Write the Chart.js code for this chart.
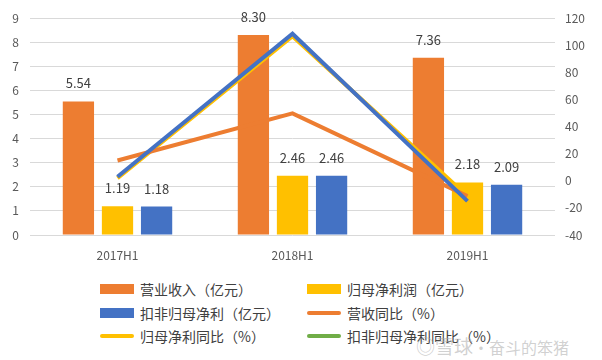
<!DOCTYPE html>
<html>
<head>
<meta charset="utf-8">
<script src="https://cdn.jsdelivr.net/npm/chart.js@4/dist/chart.umd.min.js"></script>
<style>
  body { margin: 0; background: #fff; font-family: "Noto Sans CJK SC", sans-serif; }
  #wrap { position: relative; width: 602px; height: 360px; overflow: hidden; }
  #box { position: absolute; left: 0; top: 0; width: 602px; height: 275px; }
  #legend { position: absolute; left: 100px; top: 278px; display: grid;
            grid-template-columns: 207px 220px; row-gap: 1px; }
  .item { display: flex; align-items: center; height: 22.5px; font-size: 14px; color: #404040; white-space: nowrap; }
  .sw { width: 34px; margin-right: 6px; }
  .mark { position: absolute; left: 416px; top: 332px; color: rgba(170,170,170,0.55); white-space: nowrap; }
  .mark b { font-size: 19px; font-weight: normal; }
  .mark span { font-size: 16px; }
</style>
</head>
<body>
<div id="wrap">
  <div id="box"><canvas id="c"></canvas></div>
  <div id="legend"></div>
  <div class="mark"><b>◎雪球</b><span>·奋斗的笨猪</span></div>
</div>
<script>
const periods = ['2017H1', '2018H1', '2019H1'];
const revenue = [5.54, 8.30, 7.36];
const netProfit = [1.19, 2.46, 2.18];
const netProfitExcl = [1.18, 2.46, 2.09];
const revenueYoy = [15, 49.8, -11.3];
const netProfitYoy = [2, 106.7, -11.4];
const netProfitExclYoy = [3, 108.5, -15.0];

const names = ['营业收入（亿元）', '归母净利润（亿元）', '扣非归母净利（亿元）',
               '营收同比（%）', '归母净利同比（%）', '扣非归母净利同比（%）'];
const colors = ['#ED7D31', '#FFC000', '#4472C4', '#ED7D31', '#FFC000', '#4472C4'];
const legendColors = ['#ED7D31', '#FFC000', '#4472C4', '#ED7D31', '#FFC000', '#70AD47'];

const font = '"Noto Sans CJK SC", sans-serif';

const barLabels = {
  id: 'barLabels',
  afterDatasetsDraw(chart) {
    const ctx = chart.ctx;
    ctx.save();
    ctx.font = '13px ' + font;
    ctx.fillStyle = '#404040';
    ctx.textAlign = 'center';
    ctx.textBaseline = 'middle';
    chart.data.datasets.forEach((ds, i) => {
      if (ds.type !== 'bar') return;
      chart.getDatasetMeta(i).data.forEach((bar, j) => {
        ctx.fillText(ds.data[j].toFixed(2), bar.x, bar.y - 18);
      });
    });
    ctx.restore();
  }
};

function barSet(i, data) {
  return { type: 'bar', label: names[i], data: data, backgroundColor: colors[i],
           yAxisID: 'y', order: 3, categoryPercentage: 0.67, barPercentage: 0.8 };
}
function lineSet(i, data, order) {
  return { type: 'line', label: names[i], data: data, borderColor: colors[i],
           backgroundColor: colors[i], borderWidth: 4, pointRadius: 0,
           tension: 0, yAxisID: 'y1', order: order };
}

new Chart(document.getElementById('c'), {
  data: {
    labels: periods,
    datasets: [
      barSet(0, revenue),
      barSet(1, netProfit),
      barSet(2, netProfitExcl),
      lineSet(3, revenueYoy, 1),
      lineSet(4, netProfitYoy, 1),
      lineSet(5, netProfitExclYoy, 0)
    ]
  },
  options: {
    responsive: true,
    maintainAspectRatio: false,
    animation: false,
    layout: { padding: { top: 18, bottom: 0, left: 0, right: 0 } },
    plugins: { legend: { display: false }, tooltip: { enabled: false } },
    scales: {
      x: {
        grid: { display: false, drawTicks: false },
        border: { display: false },
        ticks: { padding: 13, color: '#595959', font: { family: font, size: 12 } },
        afterFit(s) { s.height = 40; }
      },
      y: {
        position: 'left', min: 0, max: 9,
        ticks: { stepSize: 1, padding: 11, color: '#595959', font: { family: font, size: 12 } },
        grid: { color: '#d9d9d9', drawTicks: false },
        border: { display: false },
        afterFit(s) { s.width = 30; }
      },
      y1: {
        position: 'right', min: -40, max: 120,
        ticks: { stepSize: 20, padding: 10, color: '#595959', font: { family: font, size: 12 } },
        grid: { display: false, drawTicks: false },
        border: { display: false },
        afterFit(s) { s.width = 47; }
      }
    }
  },
  plugins: [barLabels]
});

const legend = document.getElementById('legend');
names.forEach((n, i) => {
  const item = document.createElement('div');
  item.className = 'item';
  const sw = document.createElement('span');
  sw.className = 'sw';
  sw.style.background = legendColors[i];
  sw.style.height = i < 3 ? '10px' : '4px';
  sw.style.borderRadius = i < 3 ? '0' : '2px';
  item.appendChild(sw);
  item.appendChild(document.createTextNode(n));
  legend.appendChild(item);
});
</script>
</body>
</html>
